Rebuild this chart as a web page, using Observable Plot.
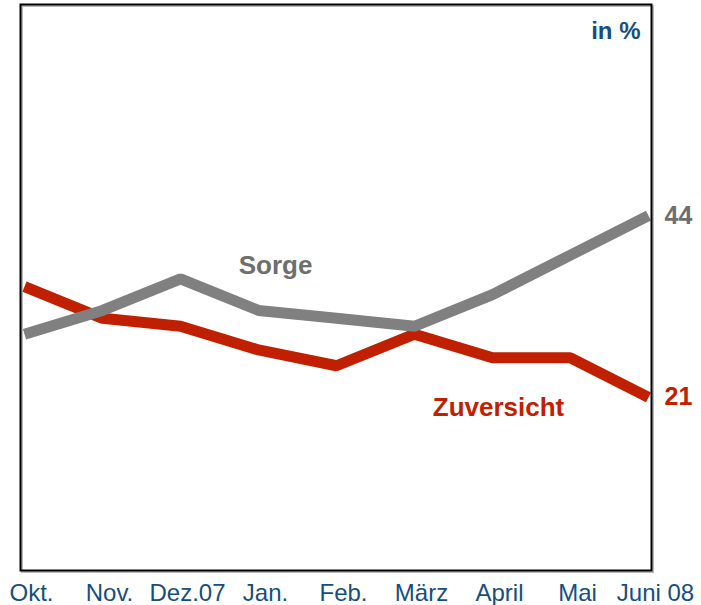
<!DOCTYPE html>
<html>
<head>
<meta charset="utf-8">
<script src="https://cdn.jsdelivr.net/npm/d3@7"></script>
<script src="https://cdn.jsdelivr.net/npm/@observablehq/plot@0.6"></script>
<style>
  html, body { margin: 0; padding: 0; background: #fff; }
  #chart svg { display: block; }
</style>
</head>
<body>
<div id="chart"></div>
<script>
const months = ["Okt.", "Nov.", "Dez.07", "Jan.", "Feb.", "März", "April", "Mai", "Juni 08"];
const sorge = [29, 32, 36, 32, 31, 30, 34, 39, 44];
const zuversicht = [35, 31, 30, 27, 25, 29, 26, 26, 21];

const seriesNames = ["Zuversicht", "Sorge"];
const seriesColors = ["#c02000", "#808080"];
const textColors = ["#c02000", "#6e6e6e"];

// label anchors in data space: [month, value]
const labelSorge = {month: "Jan.", value: 37.6, text: "Sorge"};
const labelZuv = {month: "April", value: 19.7, text: "Zuversicht"};
const unitLabel = "in %";

const rows = [];
months.forEach((m, i) => {
  rows.push({month: m, value: zuversicht[i], series: "Zuversicht"});
  rows.push({month: m, value: sorge[i], series: "Sorge"});
});
const last = months.length - 1;
const endRows = [
  {month: months[last], value: sorge[last], series: "Sorge"},
  {month: months[last], value: zuversicht[last], series: "Zuversicht"}
];

const chart = Plot.plot({
  width: 701,
  height: 605,
  marginLeft: 20,
  marginRight: 50,
  marginTop: 4,
  marginBottom: 35,
  style: {fontFamily: "Liberation Sans, Arial, sans-serif", background: "#fff"},
  x: {type: "point", domain: months, padding: 0, axis: null},
  y: {domain: [-0.9, 70.7], axis: null},
  color: {domain: seriesNames, range: seriesColors},
  marks: [
    Plot.frame({stroke: "#bbb", strokeWidth: 2, dx: 1.5, dy: 1.5}),
    Plot.line(rows.filter(d => d.series === "Zuversicht"), {
      x: "month", y: "value", stroke: seriesColors[0], strokeWidth: 11,
      strokeLinejoin: "miter", strokeLinecap: "butt"
    }),
    Plot.line(rows.filter(d => d.series === "Sorge"), {
      x: "month", y: "value", stroke: seriesColors[1], strokeWidth: 11,
      strokeLinejoin: "miter", strokeLinecap: "butt"
    }),
    Plot.frame({stroke: "#000", strokeWidth: 2}),
    Plot.text(endRows, {
      x: "month", y: "value", text: d => String(d.value),
      fill: d => d.series === "Sorge" ? textColors[1] : textColors[0],
      textAnchor: "start", dx: 16, fontSize: 25, fontWeight: "bold"
    }),
    Plot.text([labelSorge], {
      x: "month", y: "value", text: "text", fill: textColors[1],
      fontSize: 26, fontWeight: "bold", dx: 17
    }),
    Plot.text([labelZuv], {
      x: "month", y: "value", text: "text", fill: textColors[0],
      fontSize: 26, fontWeight: "bold", dx: 6
    }),
    Plot.text([unitLabel], {
      frameAnchor: "top-right", text: d => d, fill: "#164e7e",
      fontSize: 24, fontWeight: "bold", dx: -11, dy: 17
    }),
    Plot.text(months, {
      x: d => d, frameAnchor: "bottom", text: d => d, fill: "#164e7e",
      fontSize: 24, lineAnchor: "middle", dy: 23, dx: 7
    })
  ]
});
document.getElementById("chart").appendChild(chart);
</script>
</body>
</html>
